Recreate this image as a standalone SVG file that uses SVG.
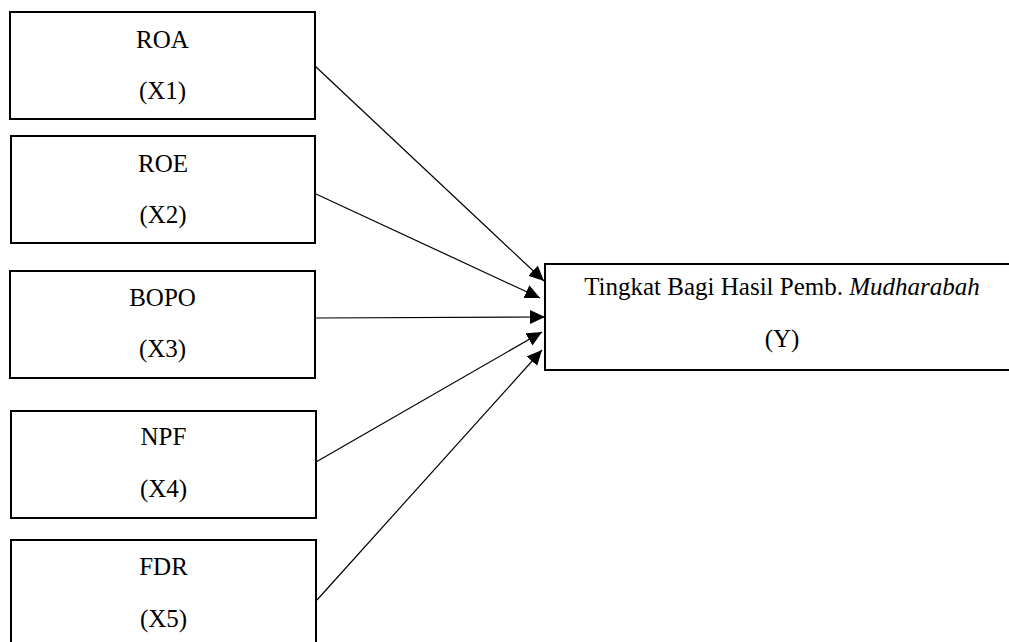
<svg xmlns="http://www.w3.org/2000/svg" width="1009" height="642" viewBox="0 0 1009 642">
  <style>
    .box { fill: #ffffff; stroke: #000000; stroke-width: 2; }
    .lbl { font-family: "Liberation Serif", "Times New Roman", Times, serif; font-size: 25px; fill: #000000; text-anchor: middle; }
    .link { stroke: #000000; stroke-width: 1.2; fill: none; marker-end: url(#head); }
  </style>
  <defs>
    <marker id="head" markerUnits="userSpaceOnUse" markerWidth="16" markerHeight="15" refX="15" refY="7" orient="auto">
      <path d="M0,0 L15,7 L0,14 Z" fill="#000000"/>
    </marker>
  </defs>
  <rect width="1009" height="642" fill="#ffffff"/>

  <g id="connectors">
    <line class="link" x1="315" y1="66" x2="544" y2="281"/>
    <line class="link" x1="316" y1="194" x2="540" y2="298"/>
    <line class="link" x1="316" y1="318" x2="545" y2="317"/>
    <line class="link" x1="316" y1="462" x2="542" y2="332"/>
    <line class="link" x1="317" y1="600" x2="542" y2="350"/>
  </g>

  <g id="roa">
    <rect class="box" x="10" y="12" width="305" height="107"/>
    <text class="lbl" x="162.5" y="48">ROA</text>
    <text class="lbl" x="162.5" y="99">(X1)</text>
  </g>
  <g id="roe">
    <rect class="box" x="11" y="136" width="304" height="107"/>
    <text class="lbl" x="163" y="172">ROE</text>
    <text class="lbl" x="163" y="223">(X2)</text>
  </g>
  <g id="bopo">
    <rect class="box" x="10" y="271" width="305" height="107"/>
    <text class="lbl" x="162.5" y="306">BOPO</text>
    <text class="lbl" x="162.5" y="357">(X3)</text>
  </g>
  <g id="npf">
    <rect class="box" x="11" y="411" width="305" height="107"/>
    <text class="lbl" x="163.5" y="445">NPF</text>
    <text class="lbl" x="163.5" y="497">(X4)</text>
  </g>
  <g id="fdr">
    <rect class="box" x="11" y="540" width="305" height="112"/>
    <text class="lbl" x="163.5" y="575">FDR</text>
    <text class="lbl" x="163.5" y="627">(X5)</text>
  </g>
  <g id="y">
    <rect class="box" x="545" y="264" width="474" height="106"/>
    <text class="lbl" x="782" y="295">Tingkat Bagi Hasil Pemb. <tspan font-style="italic">Mudharabah</tspan></text>
    <text class="lbl" x="782" y="347">(Y)</text>
  </g>
</svg>
